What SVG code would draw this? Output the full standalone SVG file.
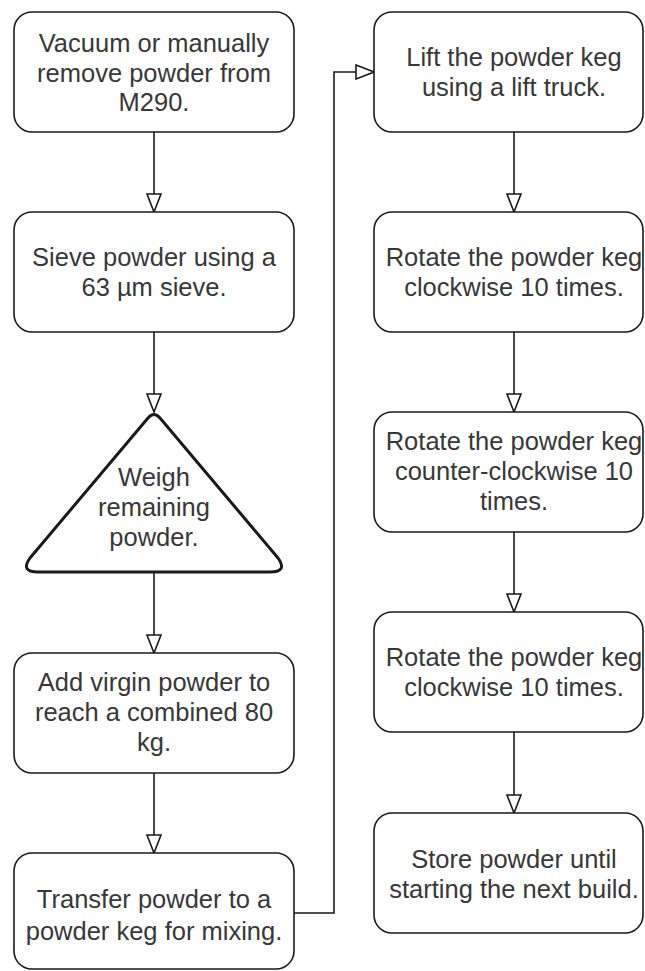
<svg xmlns="http://www.w3.org/2000/svg" width="645" height="971" viewBox="0 0 645 971">
<defs>
<style>
.box{fill:#fff;stroke:#1a1a1a;stroke-width:1.6}
.tri{fill:#fff;stroke:#1a1a1a;stroke-width:3;stroke-linejoin:round}
.t{font-family:"Liberation Sans",Arial,Helvetica,sans-serif;font-size:25.5px;fill:#383838;text-anchor:middle}
.c{fill:none;stroke:#1a1a1a;stroke-width:1.6}
</style>
<marker id="ah" viewBox="0 0 20 16" refX="19" refY="8" markerWidth="20" markerHeight="16" markerUnits="userSpaceOnUse" orient="auto">
<path d="M1,1 L19,8 L1,15 Z" fill="#fff" stroke="#1a1a1a" stroke-width="1.6"/>
</marker>
</defs>
<rect width="645" height="971" fill="#fff"/>
<g id="connectors">
<path class="c" d="M154,132 V212" marker-end="url(#ah)"/>
<path class="c" d="M154,332 V412" marker-end="url(#ah)"/>
<path class="c" d="M154,572 V653" marker-end="url(#ah)"/>
<path class="c" d="M154,773 V853" marker-end="url(#ah)"/>
<path class="c" d="M294,913 H334 V72 H374" marker-end="url(#ah)"/>
<path class="c" d="M514,132 V212" marker-end="url(#ah)"/>
<path class="c" d="M514,332 V412" marker-end="url(#ah)"/>
<path class="c" d="M514,532 V612" marker-end="url(#ah)"/>
<path class="c" d="M514,732 V813" marker-end="url(#ah)"/>
</g>
<g id="n1"><rect class="box" x="14" y="12" width="280" height="120" rx="18"/>
<text class="t" x="154" y="52">Vacuum or manually</text><text class="t" x="154" y="82">remove powder from</text><text class="t" x="154" y="111">M290.</text></g>
<g id="n2"><rect class="box" x="14" y="212" width="280" height="120" rx="18"/>
<text class="t" x="154" y="266">Sieve powder using a</text><text class="t" x="154" y="296">63 µm sieve.</text></g>
<g id="n3"><path class="tri" d="M148,418 Q154,411 160,418 L278,558 Q288,572 270,572 L38,572 Q20,572 30,558 Z"/>
<text class="t" x="154" y="486">Weigh</text><text class="t" x="154" y="516">remaining</text><text class="t" x="154" y="546">powder.</text></g>
<g id="n4"><rect class="box" x="14" y="653" width="280" height="120" rx="18"/>
<text class="t" x="154" y="691">Add virgin powder to</text><text class="t" x="154" y="721">reach a combined 80</text><text class="t" x="154" y="751">kg.</text></g>
<g id="n5"><rect class="box" x="14" y="853" width="280" height="116" rx="18"/>
<text class="t" x="154" y="908">Transfer powder to a</text><text class="t" x="154" y="940">powder keg for mixing.</text></g>
<g id="n6"><rect class="box" x="374" y="12" width="269" height="120" rx="18"/>
<text class="t" x="514" y="66">Lift the powder keg</text><text class="t" x="514" y="96">using a lift truck.</text></g>
<g id="n7"><rect class="box" x="374" y="212" width="269" height="120" rx="18"/>
<text class="t" x="514" y="266">Rotate the powder keg</text><text class="t" x="514" y="296">clockwise 10 times.</text></g>
<g id="n8"><rect class="box" x="374" y="412" width="269" height="120" rx="18"/>
<text class="t" x="514" y="450">Rotate the powder keg</text><text class="t" x="514" y="480">counter-clockwise 10</text><text class="t" x="514" y="510">times.</text></g>
<g id="n9"><rect class="box" x="374" y="612" width="269" height="120" rx="18"/>
<text class="t" x="514" y="666">Rotate the powder keg</text><text class="t" x="514" y="696">clockwise 10 times.</text></g>
<g id="n10"><rect class="box" x="374" y="813" width="269" height="120" rx="18"/>
<text class="t" x="514" y="868">Store powder until</text><text class="t" x="514" y="898">starting the next build.</text></g>
</svg>
